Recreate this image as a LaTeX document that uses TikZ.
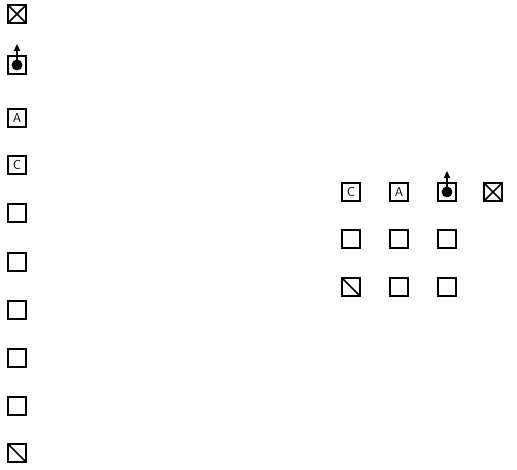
\documentclass[tikz,border=0pt]{standalone}
\usepackage{tikz}
\usetikzlibrary{positioning,arrows.meta}

\begin{document}
\begin{tikzpicture}[x=1pt, y=-1pt,
  node distance=48pt and 47pt, on grid,
  every node/.style={font=\sffamily\fontsize{13}{15}\selectfont},
  sq/.style={draw=black, line width=1.8pt, minimum size=18.5pt, inner sep=0pt},
  crossbox/.style={sq, path picture={\draw[line width=1.5pt]
      (path picture bounding box.north west) -- (path picture bounding box.south east)
      (path picture bounding box.north east) -- (path picture bounding box.south west);}},
  slashbox/.style={sq, path picture={\draw[line width=1.7pt]
      (path picture bounding box.north west) -- (path picture bounding box.south east);}},
  dot/.style={circle, fill=black, minimum size=11pt, inner sep=0pt},
  arr/.style={-{Triangle[length=7pt, width=6pt]}, line width=1.5pt, draw=black}
]
\useasboundingbox (0,0) rectangle (517,470);

% Left column
\node[crossbox] (l1) at (17,14) {};
\node[sq, below=51pt of l1] (l2) {};
\node[sq, below=53pt of l2] (l3) {A};
\node[sq, below=47pt of l3] (l4) {C};
\node[sq, below of=l4] (l5) {};
\node[sq, below=49pt of l5] (l6) {};
\node[sq, below of=l6] (l7) {};
\node[sq, below of=l7] (l8) {};
\node[sq, below of=l8] (l9) {};
\node[slashbox, below=47pt of l9] (l10) {};

% arrow out of the left dot box
\node[dot, above=4.5pt of l2.south] (l2dot) {};
\coordinate[above=11pt of l2.north] (l2tip);
\draw[arr] (l2dot.center) -- (l2tip);

% Right grid, row 1
\node[sq] (c) at (351,192) {C};
\node[sq, right of=c] (a) {A};
\node[sq, right=48pt of a] (d) {};
\node[crossbox, right=46pt of d] (x) {};

% Row 2
\node[sq, below=47pt of c] (r21) {};
\node[sq, below=47pt of a] (r22) {};
\node[sq, below=47pt of d] (r23) {};

% Row 3
\node[slashbox, below of=r21] (r31) {};
\node[sq, below of=r22] (r32) {};
\node[sq, below of=r23] (r33) {};

% arrow out of the right dot box
\node[dot, above=4.5pt of d.south] (ddot) {};
\coordinate[above=11pt of d.north] (dtip);
\draw[arr] (ddot.center) -- (dtip);
\end{tikzpicture}
\end{document}
